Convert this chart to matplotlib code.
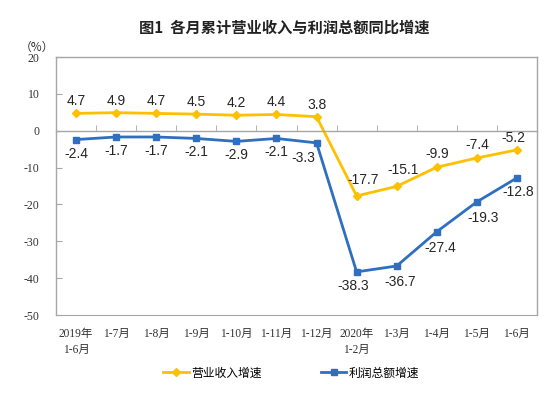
import matplotlib
matplotlib.use("Agg")
import matplotlib.pyplot as plt
from matplotlib.ticker import FixedLocator

# data
categories = ["2019年\n1-6月", "1-7月", "1-8月", "1-9月", "1-10月", "1-11月", "1-12月",
              "2020年\n1-2月", "1-3月", "1-4月", "1-5月", "1-6月"]
revenue = [4.7, 4.9, 4.7, 4.5, 4.2, 4.4, 3.8, -17.7, -15.1, -9.9, -7.4, -5.2]
profit = [-2.4, -1.7, -1.7, -2.1, -2.9, -2.1, -3.3, -38.3, -36.7, -27.4, -19.3, -12.8]
yticks = [20, 10, 0, -10, -20, -30, -40, -50]

# label offsets in pixels (dx, dy)
rev_off = [(0, 12)] * 7 + [(6, 16), (6, 16), (0, 13), (0, 13), (-4, 12)]
pro_off = [(0, -14)] * 6 + [(-13, -15), (-3, -14), (3, -16), (3, -16), (6, -16), (1, -14)]

YELLOW = "#FFC000"
BLUE = "#2E6FC0"
GRAY = "#A6A6A6"

label_font = ["Liberation Sans Narrow", "Liberation Sans", "DejaVu Sans"]
cjk_font = ["Noto Sans CJK SC", "DejaVu Sans"]
tick_font = ["Liberation Serif", "Noto Sans CJK SC"]

fig = plt.figure(figsize=(5.58, 3.93), dpi=100)
ax = fig.add_axes([56 / 558, 1 - 315 / 393, 481 / 558, 258 / 393])

x = list(range(len(categories)))
ax.plot(x, revenue, color=YELLOW, lw=2, marker="D", ms=4.5, label="营业收入增速")
ax.plot(x, profit, color=BLUE, lw=2, marker="s", ms=4, label="利润总额增速")

for i, v in enumerate(revenue):
    ax.annotate(f"{v:.1f}", (i, v), xytext=rev_off[i], textcoords="offset pixels",
                ha="center", va="center", fontsize=10, family=label_font, color="#262626")
for i, v in enumerate(profit):
    ax.annotate(f"{v:.1f}", (i, v), xytext=pro_off[i], textcoords="offset pixels",
                ha="center", va="center", fontsize=10, family=label_font, color="#262626")

ax.set_xlim(-0.5, len(categories) - 0.5)
ax.set_ylim(-50, 20)

# y axis: inward ticks, serif labels
ax.set_yticks(yticks)
ax.set_yticklabels([str(t) for t in yticks], family=tick_font, fontsize=8.5)
ax.tick_params(axis="y", direction="in", length=4, color=GRAY, pad=12, labelcolor="#333333")

# zero line with small upward ticks between categories
ax.spines["bottom"].set_position(("data", 0))
ax.xaxis.set_major_locator(FixedLocator([]))
ax.xaxis.set_minor_locator(FixedLocator([i + 0.5 for i in x[:-1]]))
ax.tick_params(axis="x", which="minor", direction="in", length=4, color=GRAY)
for s in ax.spines.values():
    s.set_color(GRAY)
    s.set_linewidth(1)

# category labels on a secondary axis sitting on the frame bottom
sec = ax.secondary_xaxis("bottom")
sec.set_xticks(x)
sec.set_xticklabels(categories, family=tick_font, fontsize=8.3, linespacing=1.45)
sec.tick_params(length=0, pad=9, labelcolor="#333333")
sec.spines["bottom"].set_color(GRAY)

fig.text(284 / 558, 1 - 28 / 393, "图1  各月累计营业收入与利润总额同比增速", ha="center", va="center",
         fontsize=11, fontweight="bold", family=cjk_font, color="#222222")
fig.text(37 / 558, 1 - 47 / 393, "（%）", ha="center", va="center", fontsize=8.5,
         family=cjk_font, color="#333333")

fig.legend(loc="center", bbox_to_anchor=(291 / 558, 1 - 373 / 393), ncol=2, frameon=False,
           prop={"family": cjk_font, "size": 8.5}, handlelength=2.2, columnspacing=5,
           handletextpad=0.2)

fig.savefig("out.png", dpi=100)
